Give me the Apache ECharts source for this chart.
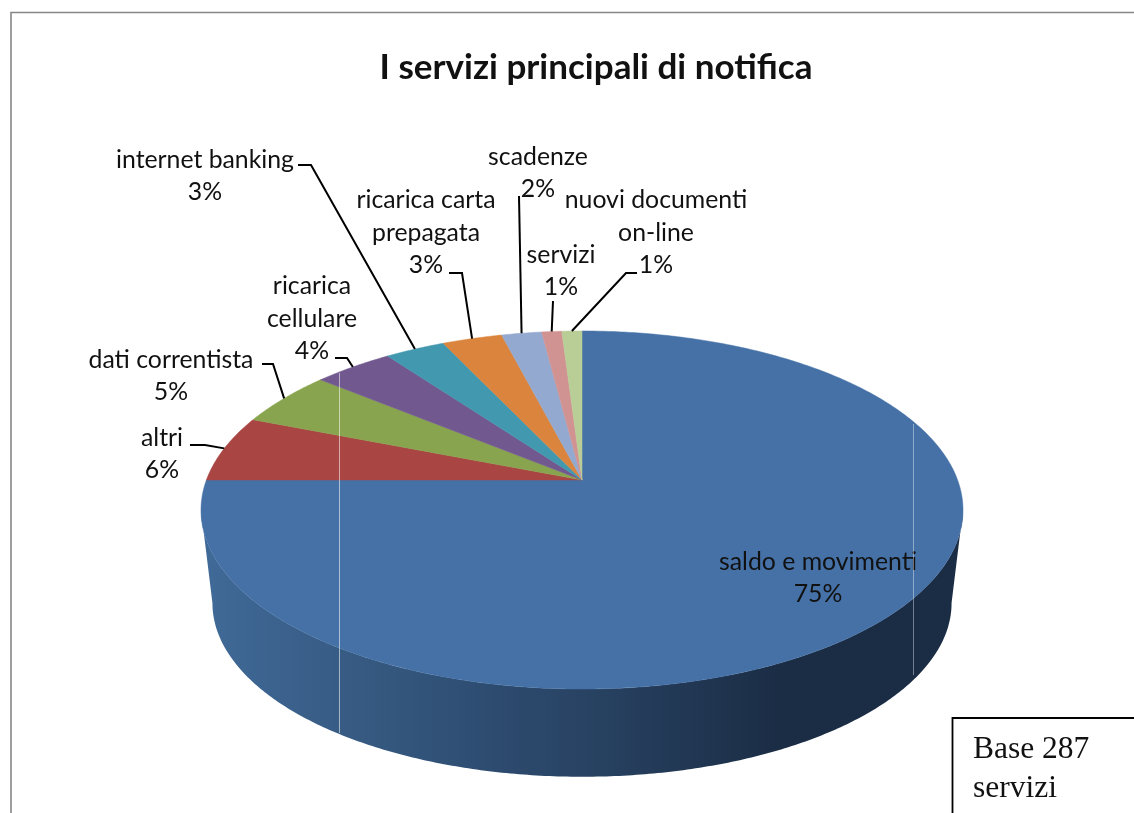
<!DOCTYPE html>
<html>
<head>
<meta charset="utf-8">
<title>I servizi principali di notifica</title>
<style>html,body{margin:0;padding:0;background:#fff}#chart{width:1134px;height:813px}</style>
<script src="https://cdn.jsdelivr.net/npm/echarts@6/dist/echarts.min.js"></script>
</head>
<body>
<div id="chart"></div>
<script>
// Survey shares, clockwise from twelve o'clock
const categories = ['saldo e movimenti', 'altri', 'dati correntista', 'ricarica\ncellulare', 'internet banking',
  'ricarica carta\nprepagata', 'scadenze', 'servizi', 'nuovi documenti\non-line'];
const shares = [75, 6, 5, 4, 3, 3, 2, 1, 1];
const sliceColors = ['#4571a6', '#a94543', '#89a44e', '#71588f', '#4198af', '#da843d', '#93a9cf', '#d19392', '#b9cd96'];

// Where each label block is centred
const labelCenters = [[818, 578], [162, 454], [171, 376], [312, 319], [205, 176], [426, 233], [538, 173], [561, 271], [656, 233]];
// Leader line stubs beside each label (the last segment runs to the slice rim)
const leaderStubs = [null, [[190, 445], [205, 445]], [[262, 364], [273, 364]], [[335, 358], [347, 358]], [[298, 165], [311, 165]],
  [[449, 273], [462, 273]], [[519, 196]], [[553, 301]], [[637, 273], [626, 273]]];

// Perspective projection of the disc: v = +1 is the far edge, v = -1 the near edge
const CX = 582, CY = 480, HALF_W = 375.6, HALF_D = 174, PERSPECTIVE = 0.1676;
const WALL_SHIFT = 94, WALL_SCALE = 0.97;
const FRONT_FROM = Math.acos(-PERSPECTIVE), FRONT_TO = 2 * Math.PI - FRONT_FROM;

function rimPoint(theta) {
  const u = Math.sin(theta), v = Math.cos(theta), w = 1 + PERSPECTIVE * v;
  return [CX + HALF_W * u / w, CY - HALF_D * v / w];
}
function lowerRimPoint(theta) {
  const p = rimPoint(theta);
  return [CX + (p[0] - CX) * WALL_SCALE, CY + WALL_SHIFT + (p[1] - CY) * WALL_SCALE];
}
function arc(from, to, fn) {
  const steps = Math.max(2, Math.ceil((to - from) / 0.01)), pts = [];
  for (let i = 0; i <= steps; i++) pts.push(fn(from + (to - from) * i / steps));
  return pts;
}

const total = shares.reduce((a, b) => a + b, 0);
const wallGradient = new echarts.graphic.LinearGradient(201, 0, 963, 0, [
  { offset: 0, color: '#406a98' },
  { offset: 0.235, color: '#35587f' },
  { offset: 0.39, color: '#2d4b6f' },
  { offset: 0.55, color: '#263f5e' },
  { offset: 0.76, color: '#1b2d45' },
  { offset: 1, color: '#1b2d45' }
], true);
const textFont = 'Lato, "Noto Sans", sans-serif';

function renderSlice(params, api) {
  const i = params.dataIndex;
  const before = shares.slice(0, i).reduce((a, b) => a + b, 0);
  const start = before / total * 2 * Math.PI;
  const end = (before + api.value(0)) / total * 2 * Math.PI;
  const children = [];

  // Side wall: only the part of the slice that faces the viewer
  const a = Math.max(start, FRONT_FROM), b = Math.min(end, FRONT_TO);
  if (b > a) {
    const points = arc(a, b, rimPoint).concat(arc(a, b, lowerRimPoint).reverse());
    children.push({ type: 'polygon', shape: { points }, style: { fill: wallGradient } });
  }

  // Top face
  children.push({
    type: 'polygon',
    shape: { points: [[CX, CY]].concat(arc(start, end, rimPoint)) },
    style: { fill: sliceColors[i], stroke: sliceColors[i], lineWidth: 0.5 }
  });

  // Leader from the label to the middle of the slice's rim
  if (leaderStubs[i]) {
    children.push({
      type: 'polyline',
      shape: { points: leaderStubs[i].concat([rimPoint((start + end) / 2)]) },
      style: { fill: null, stroke: '#000', lineWidth: 2 },
      z2: 20
    });
  }

  children.push({
    type: 'text',
    z2: 30,
    style: {
      x: labelCenters[i][0], y: labelCenters[i][1],
      text: categories[i] + '\n' + api.value(0) + '%',
      align: 'center', verticalAlign: 'middle',
      font: '24.8px ' + textFont, lineHeight: 32.5, fill: '#111'
    }
  });
  return { type: 'group', children };
}

const chart = echarts.init(document.getElementById('chart'), null, { renderer: 'canvas' });
chart.setOption({
  animation: false,
  backgroundColor: '#fff',
  title: {
    text: 'I servizi principali di notifica',
    left: 591, top: 45, textAlign: 'center',
    textStyle: { fontFamily: 'Lato, "Noto Sans", sans-serif', fontWeight: 'bold', fontSize: 35, color: '#111' }
  },
  series: [{
    type: 'custom',
    coordinateSystem: 'none',
    silent: true,
    renderItem: renderSlice,
    data: shares.map(v => [v])
  }],
  graphic: [
    // Chart frame, open on the right and at the bottom
    { type: 'polyline', z: 1, shape: { points: [[11, 813], [11, 12.5], [1134, 12.5]] }, style: { fill: null, stroke: '#868686', lineWidth: 1.6 } },
    // Pale vertical seams across the disc
    { type: 'line', z: 5, shape: { x1: 339.5, y1: 373, x2: 339.5, y2: 733 }, style: { stroke: 'rgba(255,255,255,0.55)', lineWidth: 1 } },
    { type: 'line', z: 5, shape: { x1: 913.5, y1: 424, x2: 913.5, y2: 675 }, style: { stroke: 'rgba(255,255,255,0.4)', lineWidth: 1 } },
    // Sample size note
    { type: 'polyline', z: 6, shape: { points: [[952.5, 813], [952.5, 718], [1134, 718]] }, style: { fill: null, stroke: '#000', lineWidth: 1.8 } },
    { type: 'text', z: 6, style: { x: 973, y: 769, text: 'Base 287\nservizi', font: '31.5px "Liberation Serif", serif', lineHeight: 39, fill: '#111', verticalAlign: 'middle' } }
  ]
});
</script>
</body>
</html>
